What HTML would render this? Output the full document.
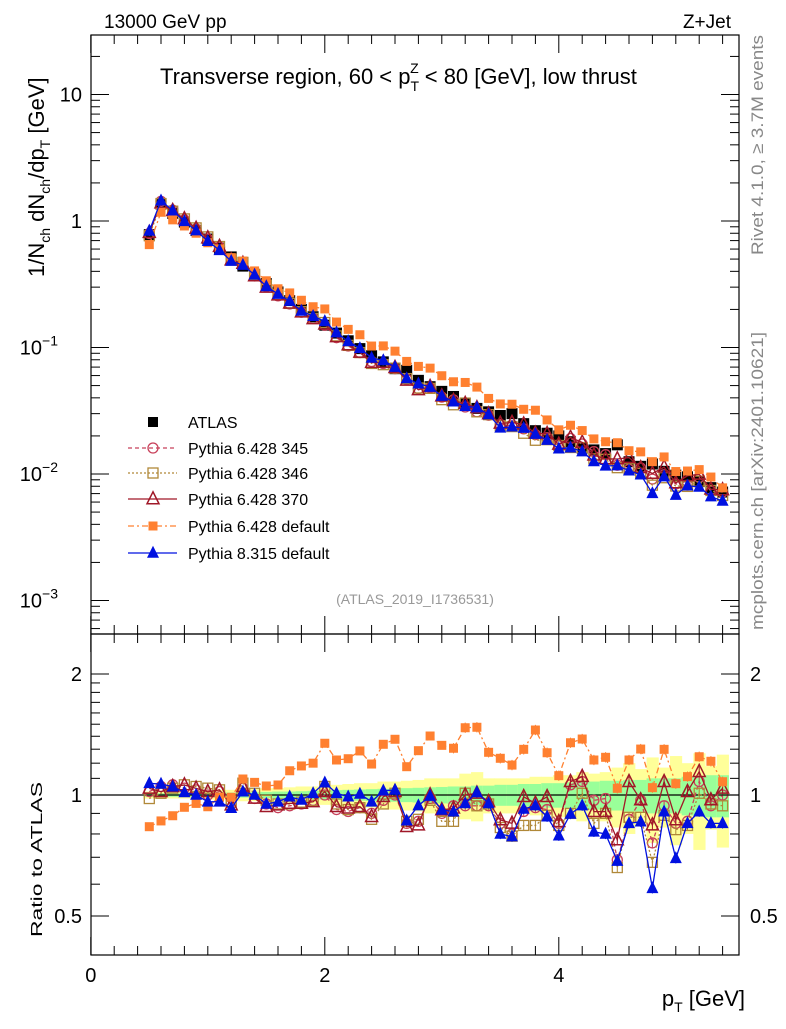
<!DOCTYPE html>
<html><head><meta charset="utf-8">
<style>
body{margin:0;background:#fff;}
svg text{font-family:"Liberation Sans","DejaVu Sans",sans-serif;}
</style></head>
<body>
<svg id="c" width="786" height="1024" xmlns="http://www.w3.org/2000/svg">
<rect width="786" height="1024" fill="#fff"/>
<g id="bands"></g>
<g id="series"></g>
<g id="axes"></g>
<text x="104" y="28" font-size="19">13000 GeV pp</text>
<text x="731" y="28" font-size="19" text-anchor="end">Z+Jet</text>
<text x="160" y="84" font-size="22">Transverse region, 60 &lt; p<tspan font-size="14" dy="7">T</tspan><tspan font-size="14" dx="-9" dy="-18">Z</tspan><tspan dy="11"> &lt; 80 [GeV], low thrust</tspan></text>
<text x="415" y="604" font-size="14" fill="#999" text-anchor="middle">(ATLAS_2019_I1736531)</text>
<text transform="translate(763,255) rotate(-90)" font-size="17" fill="#888" textLength="220" lengthAdjust="spacingAndGlyphs">Rivet 4.1.0, ≥ 3.7M events</text>
<text transform="translate(763,630) rotate(-90)" font-size="17" fill="#888" textLength="298" lengthAdjust="spacingAndGlyphs">mcplots.cern.ch [arXiv:2401.10621]</text>
<text transform="translate(44,277) rotate(-90)" font-size="22">1/N<tspan font-size="14" dy="6">ch</tspan><tspan dy="-6"> dN</tspan><tspan font-size="14" dy="6">ch</tspan><tspan dy="-6">/dp</tspan><tspan font-size="14" dy="6">T</tspan><tspan dy="-6"> [GeV]</tspan></text>
<text transform="translate(42,937) rotate(-90)" font-size="16" textLength="155" lengthAdjust="spacingAndGlyphs">Ratio to ATLAS</text>
<text x="745" y="1006" font-size="22" text-anchor="end">p<tspan font-size="14" dy="6">T</tspan><tspan dy="-6"> [GeV]</tspan></text>
<g id="legend"></g>
</svg>
<script>
const pt = [];
for (let k = 0; k < 50; k++) pt.push(+(0.5 + 0.1 * k).toFixed(2));
const atlas = [0.78,1.36,1.15,0.98,0.84,0.72,0.61,0.52,0.44,0.375,0.32,0.275,0.235,0.2,0.175,0.15,0.13,0.113,0.098,0.086,0.077,0.068,0.066,0.055,0.049,0.045,0.041,0.036,0.033,0.031,0.029,0.030,0.025,0.022,0.021,0.020,0.018,0.016,0.0155,0.0145,0.017,0.0125,0.0115,0.012,0.0105,0.0098,0.0095,0.0087,0.0078,0.0072];
const rP6def = [0.834,0.862,0.888,0.932,0.953,0.935,0.987,0.987,1.096,1.075,1.053,1.059,1.149,1.181,1.2,1.345,1.222,1.231,1.287,1.194,1.337,1.376,1.176,1.289,1.402,1.329,1.307,1.47,1.474,1.277,1.234,1.187,1.299,1.451,1.274,1.117,1.349,1.378,1.222,1.241,1.039,1.222,1.301,1.043,1.299,1.067,1.111,1.245,1.213,1.079];
const rP8 = [1.069,1.065,1.049,1.015,1.0,0.962,0.962,0.927,1.019,1.0,0.95,0.962,0.99,0.972,1.01,1.073,1.01,0.99,1.006,0.962,1.025,1.029,0.863,0.941,0.994,0.918,0.909,0.953,1.015,0.953,0.80,0.788,0.923,0.941,0.883,0.792,0.897,0.941,0.81,0.80,0.685,0.85,0.858,0.586,0.909,0.696,0.85,0.909,0.85,0.85];
const r370 = [1.039,1.019,1.049,1.059,1.039,1.019,1.029,0.944,1.049,0.981,0.935,0.944,0.953,0.953,0.962,1.019,0.935,0.927,0.935,0.883,0.99,1.019,0.834,0.842,1.0,0.918,0.927,1.0,1.01,0.962,0.867,0.85,0.99,0.953,0.99,0.858,1.079,1.111,0.909,0.909,0.773,1.079,0.972,0.842,1.079,0.867,1.019,1.143,0.972,1.039];
const r345 = [1.02,1.05,1.06,1.04,1.03,1.0,1.02,0.95,1.04,0.98,0.95,0.93,0.94,0.95,0.97,1.0,0.92,0.91,0.93,0.90,0.97,1.0,0.85,0.86,0.98,0.90,0.94,0.94,0.94,0.94,0.85,0.80,0.91,0.93,0.92,0.85,1.06,1.08,0.97,0.98,0.69,0.87,0.97,0.76,0.94,0.85,0.86,1.08,0.94,1.0];
const r346 = [0.98,1.01,1.04,1.06,1.05,1.04,1.03,0.96,1.07,1.01,0.97,0.95,0.95,0.96,0.97,1.05,0.95,0.92,0.93,0.87,0.95,1.01,0.86,0.87,0.97,0.86,0.86,1.01,0.94,0.95,0.83,0.79,0.84,0.84,0.89,0.84,0.90,1.01,0.85,0.90,0.66,0.88,0.88,0.68,0.89,0.82,0.84,1.01,0.95,0.94];
const bandYellow = [0.02,0.02,0.02,0.02,0.025,0.025,0.03,0.03,0.035,0.035,0.04,0.04,0.045,0.05,0.05,0.055,0.06,0.065,0.07,0.07,0.08,0.08,0.085,0.09,0.1,0.1,0.1,0.13,0.14,0.1,0.1,0.1,0.1,0.11,0.11,0.12,0.12,0.14,0.13,0.14,0.17,0.2,0.16,0.24,0.17,0.25,0.2,0.27,0.18,0.26];
const bandGreen = [0.01,0.01,0.01,0.01,0.01,0.012,0.012,0.014,0.015,0.016,0.018,0.02,0.02,0.022,0.024,0.026,0.028,0.03,0.032,0.034,0.036,0.038,0.04,0.042,0.045,0.047,0.05,0.05,0.055,0.055,0.06,0.06,0.065,0.065,0.07,0.07,0.075,0.08,0.08,0.085,0.085,0.09,0.09,0.1,0.1,0.1,0.11,0.11,0.12,0.12];

const NS = "http://www.w3.org/2000/svg";
const X0 = 91, X1 = 739, MT = 35, MB = 634, RB = 955;
const xs = v => 90.8 + v * 117;
const ym = v => 221 - 126.5 * Math.log10(v);
const yr = v => 795 - 402 * Math.log10(v);
function mk(parent, tag, attrs) {
  const e = document.createElementNS(NS, tag);
  for (const k in attrs) e.setAttribute(k, attrs[k]);
  parent.appendChild(e); return e;
}
const bands = document.getElementById('bands');
const series = document.getElementById('series');
const axes = document.getElementById('axes');
const legend = document.getElementById('legend');

for (let i = 0; i < pt.length; i++) {
  const xa = xs(pt[i] - 0.05), xb = xs(pt[i] + 0.05);
  let r = mk(bands, 'rect', {x: xa, y: yr(1 + bandYellow[i]), width: xb - xa + 0.5, height: yr(1 - bandYellow[i]) - yr(1 + bandYellow[i]), fill: '#ffff99'});
  
  
  let g = mk(bands, 'rect', {x: xa, y: yr(1 + bandGreen[i]), width: xb - xa + 0.5, height: yr(1 - bandGreen[i]) - yr(1 + bandGreen[i]), fill: '#99ff99'});
  
  
}
const one = mk(bands, 'line', {x1: X0, x2: X1, y1: yr(1), y2: yr(1), stroke: '#000', 'stroke-width': 1.3});



function marker(g, type, x, y, color, s) {
  let e;
  if (type === 'sq') e = mk(g, 'rect', {x: x - s, y: y - s, width: 2 * s, height: 2 * s, fill: color});
  else if (type === 'osq') e = mk(g, 'rect', {x: x - s, y: y - s, width: 2 * s, height: 2 * s, fill: 'none', stroke: color, 'stroke-width': 1.3});
  else if (type === 'circ') e = mk(g, 'circle', {cx: x, cy: y, r: s, fill: 'none', stroke: color, 'stroke-width': 1.3});
  else if (type === 'tri') e = mk(g, 'polygon', {points: `${x},${y - s * 1.2} ${x - s},${y + s * 0.8} ${x + s},${y + s * 0.8}`, fill: color});
  else e = mk(g, 'polygon', {points: `${x},${y - s * 1.2} ${x - s},${y + s * 0.8} ${x + s},${y + s * 0.8}`, fill: 'none', stroke: color, 'stroke-width': 1.5});
  return e;
}
const mcs = [
  {name: 'pythia6-345', label: 'Pythia 6.428 345', r: r345, color: '#c8405a', type: 'circ', s: 5, dash: '4,3'},
  {name: 'pythia6-346', label: 'Pythia 6.428 346', r: r346, color: '#b08838', type: 'osq', s: 5, dash: '2,2'},
  {name: 'pythia6-370', label: 'Pythia 6.428 370', r: r370, color: '#a01828', type: 'otri', s: 6, dash: ''},
  {name: 'pythia6-default', label: 'Pythia 6.428 default', r: rP6def, color: '#ff8030', type: 'sq', s: 4.5, dash: '6,3,2,3'},
  {name: 'pythia8-default', label: 'Pythia 8.315 default', r: rP8, color: '#0010e0', type: 'tri', s: 6, dash: ''}
];
const ga = mk(series, 'g', {});


for (let i = 0; i < pt.length; i++) {
  const m = marker(ga, 'sq', xs(pt[i]), ym(atlas[i]), '#000', 5.5);
  
  
}
for (const s of mcs) {
  const g = mk(series, 'g', {});
  
  
  const pm = pt.map((p, i) => xs(p) + ',' + ym(atlas[i] * s.r[i])).join(' ');
  const pr = pt.map((p, i) => xs(p) + ',' + yr(s.r[i])).join(' ');
  const l1 = mk(g, 'polyline', {points: pm, fill: 'none', stroke: s.color, 'stroke-width': 1.3, 'stroke-dasharray': s.dash});
  
  
  const l2 = mk(g, 'polyline', {points: pr, fill: 'none', stroke: s.color, 'stroke-width': 1.3, 'stroke-dasharray': s.dash});
  
  
  for (let i = 0; i < pt.length; i++) {
    const x = xs(pt[i]);
    if (i > 25) {
      const eb = mk(g, 'line', {x1: x, x2: x, y1: yr(s.r[i] * 1.03), y2: yr(s.r[i] / 1.03), stroke: s.color, 'stroke-width': 1});
      
      
    }
    const a = marker(g, s.type, x, ym(atlas[i] * s.r[i]), s.color, s.s);
    
    
    const b = marker(g, s.type, x, yr(s.r[i]), s.color, s.s);
    
    
  }
}
mk(axes, 'rect', {x: X0, y: MT, width: X1 - X0, height: MB - MT, fill: 'none', stroke: '#000', 'stroke-width': 1.2});
mk(axes, 'rect', {x: X0, y: MB, width: X1 - X0, height: RB - MB, fill: 'none', stroke: '#000', 'stroke-width': 1.2});
function tick(x1, y1, x2, y2) { mk(axes, 'line', {x1, y1, x2, y2, stroke: '#000', 'stroke-width': 1}); }
function label(x, y, t, anchor, size, name) {
  const e = mk(axes, 'text', {x, y, 'font-size': size, 'text-anchor': anchor});
  e.textContent = t;
  
  
  return e;
}
for (let d = -4; d <= 1; d++) {
  for (let m = 1; m <= 9; m++) {
    const v = m * Math.pow(10, d);
    const y = ym(v);
    if (y < MT || y > MB) continue;
    const L = m === 1 ? 18 : 9;
    tick(X0, y, X0 + L, y); tick(X1, y, X1 - L, y);
  }
}
const mainTicks = [10, 1, 0.1, 0.01, 0.001];
const mainTickLabels = ['10', '1', '10', '10', '10'];
const mainTickExp = ['', '', '−1', '−2', '−3'];
mainTicks.forEach((v, i) => {
  const t = label(mainTickExp[i] ? 58 : 82, ym(v) + 7, mainTickLabels[i], 'end', 20, 'y-tick-label');
  if (mainTickExp[i]) { const s = mk(t, 'tspan', {dy: -9, 'font-size': 14}); s.textContent = mainTickExp[i]; }
});
for (let v = 0; v <= 5.5; v += 0.2) {
  const x = xs(v); if (x > X1) break;
  const major = Math.abs(v / 2 - Math.round(v / 2)) < 1e-6;
  const L = major ? 18 : 9;
  tick(x, MB, x, MB - L); tick(x, MT, x, MT + L);
  tick(x, RB, x, RB - L); tick(x, MB, x, MB + L);
}
const xTicks = [0, 2, 4];
xTicks.forEach(v => label(xs(v), 982, String(v), 'middle', 20, 'x-tick-label'));
const rMinor = [0.4, 0.5, 0.6, 0.7, 0.8, 0.9, 1, 1.1, 1.2, 1.3, 1.4, 1.5, 1.6, 1.7, 1.8, 1.9, 2];
rMinor.forEach(v => {
  const y = yr(v); if (y < MB || y > RB) return;
  const major = v === 0.5 || v === 1 || v === 2;
  const L = major ? 18 : 9;
  tick(X0, y, X0 + L, y); tick(X1, y, X1 - L, y);
});
const rTicks = [0.5, 1, 2];
rTicks.forEach(v => {
  label(82, yr(v) + 7, String(v), 'end', 20, 'ratio-y-tick-label');
  label(750, yr(v) + 7, String(v), 'start', 20, 'ratio-y-tick-label-right');
});
const legY = [422, 448, 473, 499, 526, 553];
const lg0 = mk(legend, 'g', {});


mk(lg0, 'rect', {x: 148, y: legY[0] - 5, width: 10, height: 10, fill: '#000'});
const lt0 = mk(lg0, 'text', {x: 188, y: legY[0] + 6, 'font-size': 16}); lt0.textContent = 'ATLAS';
mcs.forEach((s, i) => {
  const g = mk(legend, 'g', {});
  
  
  const y = legY[i + 1];
  mk(g, 'line', {x1: 128, x2: 177, y1: y, y2: y, stroke: s.color, 'stroke-width': 1.3, 'stroke-dasharray': s.dash});
  marker(g, s.type, 153, y, s.color, s.s);
  const t = mk(g, 'text', {x: 188, y: y + 6, 'font-size': 16}); t.textContent = s.label;
});
</script>
</body></html>
